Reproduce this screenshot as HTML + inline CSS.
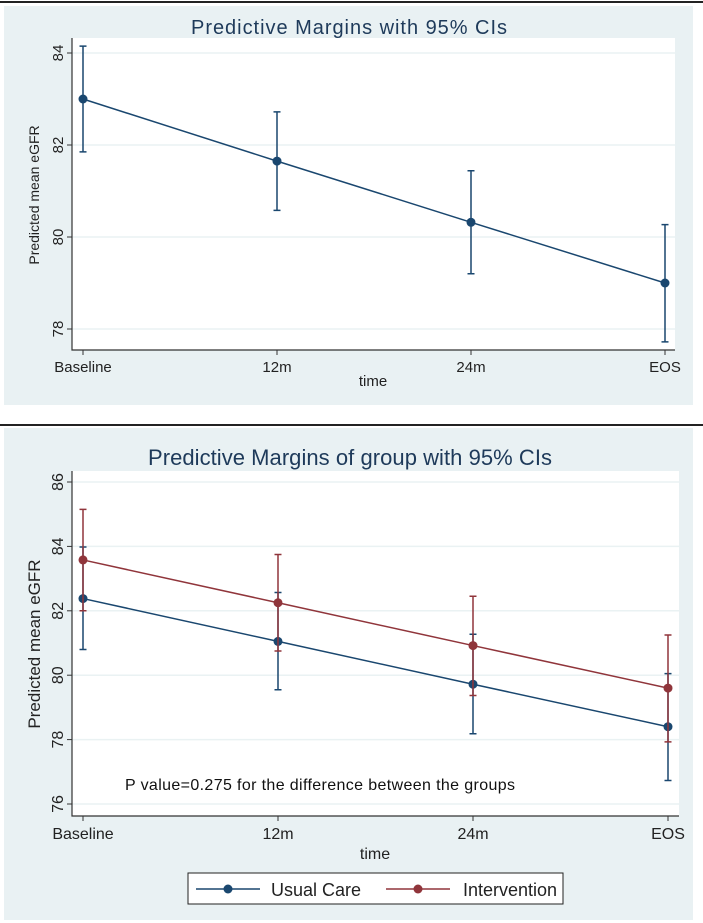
<!DOCTYPE html>
<html><head><meta charset="utf-8"><style>
html,body{margin:0;padding:0;background:#fff;width:703px;height:923px;overflow:hidden}
svg{display:block;font-family:"Liberation Sans",sans-serif}
</style></head><body>
<svg id="svg" width="703" height="923" viewBox="0 0 703 923">
<line x1="0" y1="2" x2="703" y2="2" stroke="#222" stroke-width="2"/>
<rect x="4" y="6" width="689" height="399" fill="#e9f1f3"/>
<rect x="72" y="38" width="603" height="312" fill="#fff"/>
<text x="349" y="34" font-size="20" fill="#1e3a5a" text-anchor="middle" textLength="316">Predictive Margins with 95% CIs</text>
<text transform="translate(39,195) rotate(-90)" font-size="14" fill="#222" text-anchor="middle">Predicted mean eGFR</text>
<text x="373" y="386" font-size="15" fill="#222" text-anchor="middle">time</text>
<g id="top"></g>
<line x1="0" y1="425" x2="703" y2="425" stroke="#222" stroke-width="2"/>
<rect x="4" y="428" width="689" height="492" fill="#e9f1f3"/>
<rect x="72" y="471" width="607" height="345" fill="#fff"/>
<text x="350" y="465" font-size="22" fill="#1e3a5a" text-anchor="middle" textLength="404">Predictive Margins of group with 95% CIs</text>
<text transform="translate(40,644) rotate(-90)" font-size="17" fill="#222" text-anchor="middle">Predicted mean eGFR</text>
<text x="375" y="859" font-size="16" fill="#222" text-anchor="middle">time</text>
<text x="125" y="790" font-size="16" fill="#111" font-family="'Liberation Sans Narrow','Liberation Sans',sans-serif" textLength="390">P value=0.275 for the difference between the groups</text>
<g id="bottom"></g>
<g>
<rect x="188" y="873" width="375" height="31" fill="#fff" stroke="#222" stroke-width="1"/>
<g>
<line x1="196" y1="889" x2="260" y2="889" stroke="#1a476f" stroke-width="1.5"/>
<circle cx="228" cy="889" r="4.5" fill="#1a476f"/>
<text x="271" y="896" font-size="18" fill="#222">Usual Care</text></g>
<g>
<line x1="386" y1="889" x2="450" y2="889" stroke="#90353b" stroke-width="1.5"/>
<circle cx="418" cy="889" r="4.5" fill="#90353b"/>
<text x="463" y="896" font-size="18" fill="#222">Intervention</text></g>
</g>
</svg>
<script>
const categories=["Baseline","12m","24m","EOS"];
const topTicks=[78,80,82,84];
const topMean=[83.0,81.65,80.32,79.0];
const topLo=[81.85,80.58,79.2,77.72];
const topHi=[84.15,82.72,81.44,80.27];
const botTicks=[76,78,80,82,84,86];
const usualMean=[82.38,81.05,79.72,78.4];
const usualLo=[80.8,79.55,78.18,76.73];
const usualHi=[83.98,82.57,81.27,80.05];
const intMean=[83.58,82.25,80.92,79.6];
const intLo=[82.0,80.75,79.37,77.93];
const intHi=[85.15,83.75,82.45,81.25];
const NS="http://www.w3.org/2000/svg";
function mk(parent,tag,attrs){const e=document.createElementNS(NS,tag);for(const k in attrs)e.setAttribute(k,attrs[k]);parent.appendChild(e);return e;}
function panel(g,cfg){
  const xS=i=>cfg.x0+(cfg.x1-cfg.x0)*i/(categories.length-1);
  const yS=v=>cfg.yRef+(cfg.vRef-v)*cfg.ppu;
  cfg.ticks.forEach(t=>{
    const gl=mk(g,"line",{x1:cfg.left,x2:cfg.right,y1:yS(t),y2:yS(t),stroke:"#eaf2f3","stroke-width":1.5});
    
    
    const tk=mk(g,"line",{x1:cfg.left-5,x2:cfg.left,y1:yS(t),y2:yS(t),stroke:"#333"});
    
    
    const tl=mk(g,"text",{transform:`translate(${cfg.left-9},${yS(t)}) rotate(-90)`,"text-anchor":"middle","font-size":cfg.fs,fill:"#222"});
    tl.textContent=t;
    
    
  });
  const ax=mk(g,"path",{d:`M${cfg.left},${cfg.top} V${cfg.bottom} H${cfg.right}`,fill:"none",stroke:"#333","stroke-width":1.2});
  
  
  categories.forEach((c,i)=>{
    const tk=mk(g,"line",{x1:xS(i),x2:xS(i),y1:cfg.bottom,y2:cfg.bottom+5,stroke:"#333"});
    
    
    const tl=mk(g,"text",{x:xS(i),y:cfg.bottom+cfg.fs+7,"text-anchor":"middle","font-size":cfg.fs,fill:"#222"});
    tl.textContent=c;
    
    
  });
  cfg.series.forEach(s=>{
    const sg=mk(g,"g",{});
    
    
    s.mean.forEach((m,i)=>{
      const x=xS(i);
      const eb=mk(sg,"path",{d:`M${x},${yS(s.lo[i])} V${yS(s.hi[i])} M${x-3.5},${yS(s.lo[i])} h7 M${x-3.5},${yS(s.hi[i])} h7`,stroke:s.color,"stroke-width":1.5,fill:"none"});
      
      
    });
    const pl=mk(sg,"polyline",{points:s.mean.map((m,i)=>xS(i)+","+yS(m)).join(" "),fill:"none",stroke:s.color,"stroke-width":1.5});
    
    
    s.mean.forEach((m,i)=>{
      const c=mk(sg,"circle",{cx:xS(i),cy:yS(m),r:4.5,fill:s.color});
      
      
    });
  });
}
panel(document.getElementById("top"),{x0:83,x1:665,left:72,right:675,top:38,bottom:350,yRef:53,vRef:84,ppu:46,ticks:topTicks,fs:15,
  series:[{name:"overall",mean:topMean,lo:topLo,hi:topHi,color:"#1a476f"}]});
panel(document.getElementById("bottom"),{x0:83,x1:668,left:72,right:679,top:471,bottom:816,yRef:482,vRef:86,ppu:32.2,ticks:botTicks,fs:16,
  series:[{name:"usual-care",mean:usualMean,lo:usualLo,hi:usualHi,color:"#1a476f"},{name:"intervention",mean:intMean,lo:intLo,hi:intHi,color:"#90353b"}]});
</script>
</body></html>
